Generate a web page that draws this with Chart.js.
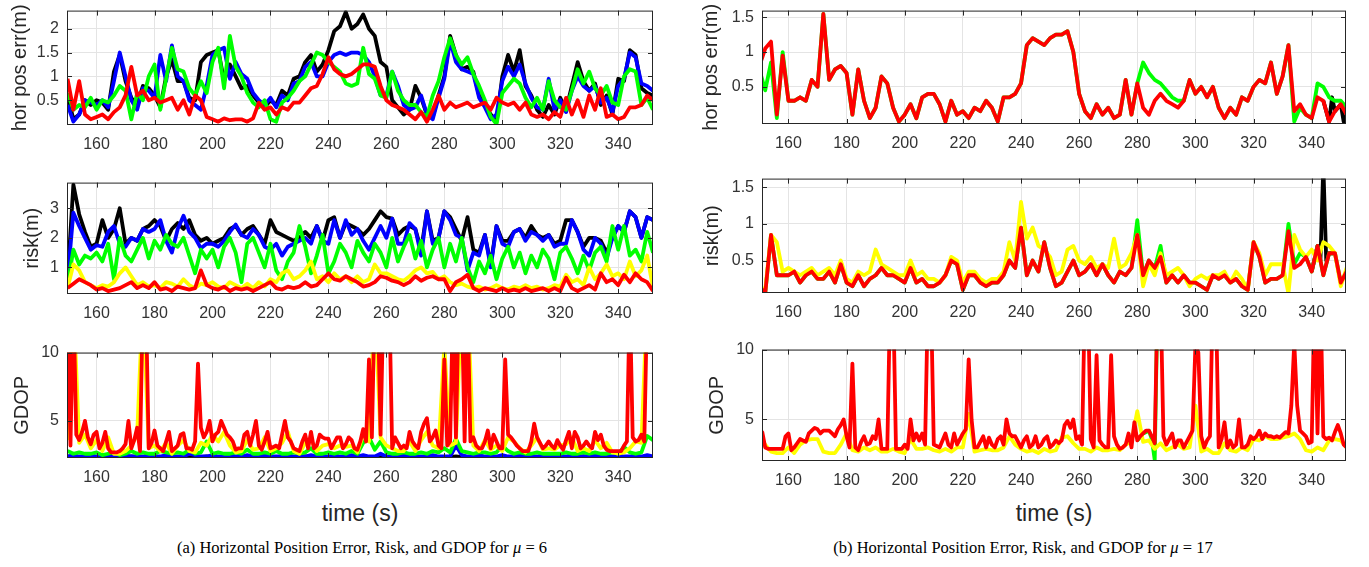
<!DOCTYPE html>
<html>
<head>
<meta charset="utf-8">
<script src="https://cdn.jsdelivr.net/npm/chart.js@4.4.1/dist/chart.umd.min.js"></script>
<style>
  body { margin: 0; background: #fff; width: 1369px; height: 567px; position: relative; overflow: hidden; }
  canvas { position: absolute; }
  .xlab { position: absolute; width: 300px; text-align: center; font: 23px/23px "Liberation Sans", Arial, sans-serif; color: #262626; }
  .cap { position: absolute; width: 600px; text-align: center; font: 16.5px/18px "Liberation Serif", "Times New Roman", serif; color: #000; }
</style>
</head>
<body>
<canvas id="lt"></canvas>
<canvas id="lm"></canvas>
<canvas id="lb"></canvas>
<canvas id="rt"></canvas>
<canvas id="rm"></canvas>
<canvas id="rb"></canvas>
<div class="xlab" style="left:210px;top:502px">time (s)</div>
<div class="xlab" style="left:904px;top:502px">time (s)</div>
<div class="cap" style="left:62px;top:539px">(a) Horizontal Position Error, Risk, and GDOP for <i>μ</i> = 6</div>
<div class="cap" style="left:723px;top:539px">(b) Horizontal Position Error, Risk, and GDOP for <i>μ</i> = 17</div>
<script>
// sample times (s): 2 s grid for most traces, 1 s grid for the spiky red GDOP traces
const t2 = []
for (let t = 150; t <= 352; t += 2) t2.push(t)
const t1 = []
for (let t = 150; t <= 352; t++) t1.push(t)

const xTicks = [160, 180, 200, 220, 240, 260, 280, 300, 320, 340]

// ---- (a) mu = 6 : horizontal position error ----
const ltBlack = [0.6,0.1,0.2,0.5,0.4,0.5,0.45,0.3,1.1,1.45,
  0.9,0.55,0.4,0.8,0.75,0.6,0.35,1.0,1.35,0.9,
  0.9,0.55,0.5,1.3,1.45,1.5,1.55,0.9,1.25,1.0,
  0.75,0.8,0.6,0.45,0.35,0.5,0.4,0.7,0.6,0.95,
  1.0,1.3,1.45,1.1,1.25,1.55,1.95,2.05,2.35,2.0,
  2.1,2.3,2.0,1.85,1.3,1.2,0.5,0.35,0.2,0.3,
  0.8,0.55,0.2,0.15,0.6,1.0,1.85,1.45,1.15,1.2,
  1.1,0.6,0.4,0.2,0.05,1.0,1.45,1.1,1.55,0.8,
  0.6,0.3,0.15,0.4,0.2,0.55,0.3,0.8,1.3,0.9,
  0.7,0.85,0.4,0.6,0.2,0.95,0.9,1.55,1.45,0.75,
  0.65,0.6]
const ltBlue = [0.4,0.05,0.2,0.5,0.45,0.4,0.5,0.35,0.9,1.5,
  1.0,0.5,0.3,0.75,0.7,0.55,1.45,0.9,1.65,1.0,
  0.9,0.5,0.4,0.3,0.8,1.45,1.55,1.6,0.95,1.3,
  1.05,0.95,0.65,0.5,0.4,0.55,0.35,0.6,0.5,0.85,
  0.9,1.2,1.3,1.0,1.0,1.3,1.45,1.5,1.45,1.5,
  1.5,1.45,1.3,1.0,0.6,0.6,1.1,0.8,0.4,0.3,
  0.35,0.6,0.2,0.1,0.55,0.95,1.75,1.3,1.15,1.1,
  1.05,0.55,0.35,0.1,0.2,0.9,1.2,1.0,1.25,0.85,
  0.55,0.35,0.3,0.95,0.3,0.5,0.25,0.7,1.0,0.8,
  0.7,0.8,0.45,0.55,0.25,0.8,0.95,1.5,1.4,0.85,
  0.8,0.7]
const ltGreen = [0.65,0.3,0.4,0.35,0.55,0.3,0.5,0.45,0.6,0.8,
  0.7,0.1,0.65,0.5,1.0,1.25,0.3,0.95,1.6,1.15,
  1.1,0.75,0.6,0.9,0.65,1.3,1.6,0.75,1.85,1.2,
  1.0,0.65,0.45,0.35,0.5,0.1,0.05,0.45,0.55,0.7,
  0.9,1.0,1.25,1.5,1.45,1.3,1.2,1.1,0.85,0.8,
  0.85,1.6,1.05,0.95,0.6,0.55,1.1,0.7,0.5,0.4,
  0.4,0.25,0.15,0.6,0.9,1.4,1.8,1.45,1.25,1.4,
  1.05,0.8,0.5,0.15,0.0,0.65,0.8,0.95,0.85,0.55,
  0.35,0.55,0.3,0.9,0.5,0.35,0.3,0.7,1.15,0.85,
  1.1,0.75,0.6,0.8,0.45,0.4,1.0,1.15,1.1,0.4,
  0.55,0.3]
const ltRed = [0.95,0.3,0.9,0.2,0.1,0.15,0.2,0.1,0.25,0.35,
  0.6,1.2,0.6,0.7,0.5,0.55,0.45,0.5,0.55,0.3,
  0.5,0.2,0.6,0.5,0.15,0.1,0.05,0.12,0.08,0.1,
  0.1,0.05,0.12,0.45,0.3,0.35,0.2,0.35,0.3,0.45,
  0.45,0.6,0.75,0.8,1.05,1.4,1.15,1.05,1.0,1.05,
  1.15,1.25,1.25,1.2,0.8,0.5,0.4,0.35,0.3,0.2,
  0.1,0.25,0.05,0.3,0.6,0.3,0.45,0.35,0.4,0.45,
  0.35,0.4,0.45,0.3,0.55,0.45,0.4,0.45,0.3,0.45,
  0.2,0.15,0.2,0.1,0.25,0.15,0.55,0.2,0.5,0.15,
  0.6,0.3,0.75,0.15,0.2,0.1,0.15,0.35,0.35,0.4,
  0.6,0.5]

// ---- (a) risk ----
const lmBlack = [0.6,3.8,2.8,2.2,1.7,1.8,2.6,2.0,2.3,3.0,
  1.8,2.0,1.9,2.3,2.4,2.6,2.4,1.9,2.3,2.5,
  2.3,2.6,2.1,1.9,2.0,1.8,1.9,2.0,2.3,2.4,
  2.1,2.3,2.4,2.1,1.8,2.6,2.2,2.1,2.0,1.9,
  2.0,2.2,2.0,2.4,1.9,2.6,2.7,2.0,2.5,2.4,
  2.3,2.1,2.3,2.6,2.9,2.7,2.65,2.1,2.3,2.4,
  2.3,1.6,2.9,1.9,2.0,2.9,2.7,2.3,1.9,2.7,
  1.6,1.5,2.1,1.1,2.4,1.9,1.9,2.2,2.3,2.0,
  2.4,2.1,2.0,2.1,1.8,1.9,2.6,2.6,2.2,1.7,
  2.0,2.0,1.9,1.5,2.0,2.4,2.2,2.9,2.7,2.0,
  2.7,2.6]
const lmBlue = [0.6,2.85,2.4,2.0,1.6,1.75,1.7,2.2,2.4,1.8,
  1.7,2.0,1.9,2.3,2.2,2.3,2.6,1.9,1.5,2.3,
  2.75,2.2,2.0,1.65,1.8,1.8,1.7,1.9,2.2,2.45,
  2.1,2.0,2.3,2.1,1.7,1.6,1.8,1.4,1.7,1.8,
  1.9,2.0,1.8,2.4,1.9,1.8,2.6,2.0,2.6,2.1,
  2.3,1.9,1.6,2.0,2.4,2.0,2.65,1.8,1.8,2.5,
  2.3,1.4,2.9,1.8,2.0,2.9,2.6,2.1,2.0,0.9,
  1.5,1.4,2.1,1.0,2.4,1.8,1.7,2.2,2.3,1.9,
  2.2,2.1,1.9,2.1,1.7,1.8,1.8,2.6,2.2,1.6,
  1.4,2.0,1.8,1.3,2.0,2.4,2.2,2.9,2.7,2.0,
  2.7,2.6]
const lmGreen = [0.4,1.6,1.1,1.4,1.3,1.5,1.2,1.8,0.6,2.0,
  1.4,1.2,1.6,2.0,1.3,1.9,1.6,2.1,1.8,1.7,
  2.0,1.4,0.8,1.6,1.3,1.6,1.0,1.7,2.0,1.5,
  0.5,1.8,2.0,1.5,1.0,1.8,0.9,0.6,1.2,1.5,
  2.4,1.7,0.8,1.4,2.1,0.8,1.2,1.8,1.5,1.0,
  1.9,1.5,1.2,1.8,1.5,1.0,2.0,1.2,1.7,2.1,
  1.3,1.9,1.0,1.6,2.0,1.0,1.8,1.2,2.0,1.0,
  0.5,1.2,0.8,1.4,0.6,1.3,1.7,1.0,1.5,0.8,
  1.4,1.0,1.6,1.3,0.6,1.5,1.7,1.3,0.8,1.4,
  0.9,1.5,1.7,1.2,2.4,1.6,2.4,1.4,1.6,1.2,
  2.2,1.5]
const lmYellow = [0.3,1.1,0.9,0.5,0.4,0.3,0.4,0.35,0.5,0.8,
  1.0,0.7,0.4,0.5,0.35,0.4,0.3,0.5,0.45,0.35,
  0.6,0.4,0.3,0.45,0.4,0.5,0.35,0.3,0.5,0.4,
  0.3,0.45,0.3,0.5,0.35,0.6,0.5,0.8,0.9,0.6,
  0.7,0.9,1.2,0.6,0.7,0.5,0.8,0.6,0.7,0.5,
  0.7,0.5,0.6,1.1,0.8,0.8,0.7,0.6,0.55,0.7,
  0.9,1.0,0.8,0.85,0.6,0.7,0.5,0.4,0.45,0.35,
  0.3,0.35,0.25,0.3,0.4,0.3,0.25,0.35,0.3,0.4,
  0.3,0.35,0.25,0.3,0.4,0.35,0.75,0.5,0.6,0.4,
  1.0,0.6,0.8,1.1,0.7,0.8,0.6,1.2,0.7,0.9,
  1.4,0.3]
const lmRed = [0.3,0.45,0.6,0.5,0.4,0.25,0.3,0.2,0.25,0.3,
  0.4,0.5,0.3,0.4,0.3,0.5,0.25,0.3,0.2,0.35,
  0.3,0.25,0.3,0.9,0.4,0.3,0.25,0.35,0.2,0.3,
  0.25,0.3,0.2,0.3,0.4,0.5,0.3,0.25,0.35,0.3,
  0.35,0.5,0.35,0.4,0.6,0.8,0.6,0.55,0.7,0.6,
  0.5,0.35,0.4,0.5,0.7,0.65,0.55,0.5,0.4,0.5,
  0.7,0.55,0.65,0.7,0.6,0.6,0.2,0.5,0.6,0.75,
  0.3,0.2,0.3,0.25,0.2,0.3,0.2,0.25,0.2,0.3,
  0.2,0.25,0.3,0.2,0.3,0.2,0.65,0.3,0.2,0.3,
  0.4,0.25,0.8,0.5,0.6,0.4,0.75,0.5,0.8,0.6,
  0.5,0.2]

// ---- (a) GDOP ----
const lbBlack = [2.4,2.35,2.35,2.4,2.35,2.35,2.35,2.4,2.35,2.35,
  2.35,2.4,2.35,2.35,2.35,2.4,2.35,2.35,2.35,2.35,
  2.4,2.35,2.35,2.35,2.4,2.35,2.35,2.35,2.4,2.35,
  2.35,2.35,2.4,2.35,2.35,2.35,2.35,2.4,2.35,2.35,
  2.35,2.4,2.35,2.35,2.35,2.35,2.4,2.35,2.35,2.35,
  2.35,2.35,2.35,2.35,2.35,2.35,2.4,2.35,2.35,2.4,
  2.35,2.35,2.4,2.35,2.35,2.35,2.35,2.4,2.35,2.35,
  2.35,2.4,2.35,2.35,2.35,2.4,2.35,2.35,2.35,2.35,
  2.4,2.35,2.35,2.35,2.35,2.4,2.35,2.35,2.35,2.4,
  2.35,2.35,2.35,2.4,2.35,2.35,2.35,2.35,2.4,2.35,
  2.35,2.35]
const lbBlue = [2.4,2.5,2.4,2.4,2.5,2.4,2.4,2.5,2.4,2.4,
  2.5,2.4,2.4,2.4,2.5,2.4,2.4,2.5,2.4,2.4,
  2.4,2.6,2.5,2.4,2.4,2.5,2.4,2.4,2.5,2.4,
  2.4,2.5,2.4,2.4,2.5,2.4,2.4,2.4,2.5,2.4,
  2.4,2.4,2.5,2.4,2.4,2.4,2.5,2.4,2.4,2.5,
  2.4,2.5,2.4,2.4,2.6,2.4,2.4,2.4,2.5,2.4,
  2.4,2.4,2.4,2.5,2.4,2.4,2.4,3.2,2.5,2.4,
  2.4,2.5,2.4,2.4,2.4,2.5,2.4,2.4,2.5,2.4,
  2.4,2.4,2.5,2.4,2.4,2.4,2.4,2.5,2.4,2.4,
  2.4,2.5,2.4,2.4,2.4,2.5,2.4,2.4,2.5,2.4,
  2.5,2.4]
const lbGreen = [2.8,2.6,2.7,2.6,2.6,2.7,2.5,2.6,2.7,2.5,
  2.6,2.8,2.6,2.7,2.6,2.6,2.8,2.7,2.6,2.7,
  2.6,2.9,2.6,2.7,3.5,2.6,2.7,2.6,2.6,2.7,
  2.6,2.9,2.6,2.6,2.7,2.6,2.8,2.6,2.6,2.7,
  2.6,2.7,3.0,2.6,2.6,2.7,2.6,2.7,2.6,2.8,
  2.6,3.4,3.8,2.9,3.5,2.7,2.6,2.6,2.7,2.6,
  2.6,2.7,2.6,2.8,2.7,3.0,2.7,3.7,2.8,2.7,
  2.6,2.7,2.7,2.6,2.7,3.2,2.8,2.6,2.7,2.6,
  2.6,2.7,2.6,2.6,2.6,2.6,2.7,2.6,2.6,2.7,
  2.6,2.7,2.6,2.6,2.7,2.6,3.1,2.7,2.6,2.7,
  3.9,3.6]
const lbYellow = [3.6,14,3.4,4.0,3.0,3.6,2.8,3.8,2.6,2.6,
  2.8,3.2,4.0,14,3.0,3.2,2.8,3.4,2.6,3.2,
  3.6,2.8,2.7,3.4,3.2,4.0,3.5,4.2,3.2,2.7,
  2.8,3.6,2.9,3.0,3.8,2.8,3.0,3.4,4.2,2.8,
  2.6,3.4,3.6,2.8,3.2,3.3,3.0,3.2,3.1,3.2,
  2.7,4.0,3.5,14,3.8,3.2,3.0,2.8,2.8,3.5,
  2.8,3.6,4.2,3.2,3.0,10.5,3.2,3.4,14,14,
  3.2,2.8,3.6,2.9,3.2,2.8,3.8,3.5,3.0,2.7,
  3.2,3.8,2.9,3.0,2.9,3.2,3.3,3.8,2.8,3.0,
  2.8,3.6,3.0,3.4,2.7,2.6,2.7,3.0,3.5,3.4,
  14,14]
const lbRed = [14,3.2,14,4.0,3.6,4.2,5.0,3.8,3.3,4.0,
  4.2,3.0,3.4,4.2,3.0,2.7,2.7,2.7,2.8,3.0,
  3.3,5.0,3.0,3.6,4.5,2.8,14,14,3.0,3.4,
  4.3,3.2,3.0,2.8,3.5,4.2,2.8,3.0,3.2,4.0,
  4.1,3.0,3.0,2.9,3.5,9.2,4.5,3.8,4.2,5.0,
  3.5,4.0,4.2,5.0,4.5,4.0,3.8,3.5,2.9,3.0,
  3.0,4.0,4.2,3.2,4.0,5.0,3.2,2.9,3.5,4.2,
  3.0,3.1,3.2,3.0,4.0,5.0,3.8,3.5,3.0,2.9,
  2.8,3.5,4.0,3.0,4.2,3.0,3.2,4.0,3.8,3.7,
  3.7,3.0,3.4,3.8,3.8,3.0,3.3,3.8,3.6,3.0,
  2.9,3.5,4.4,3.5,9.5,3.8,14,14,4.0,14,
  14,14,3.0,3.8,3.4,3.0,3.2,3.0,4.2,3.5,
  3.2,3.0,4.2,4.8,5.2,3.5,3.8,4.3,3.2,3.0,
  9.5,3.2,3.5,14,3.8,14,14,3.5,14,3.5,
  3.8,3.2,3.0,3.0,3.5,4.3,3.0,4.0,3.5,3.0,
  3.0,9.5,4.0,3.8,3.5,3.2,3.0,2.8,2.8,2.8,
  3.5,4.8,3.8,3.4,3.0,3.2,3.5,3.2,3.0,3.6,
  3.2,2.9,3.6,4.2,3.0,4.2,3.8,3.0,3.2,3.5,
  3.2,3.0,4.2,3.6,4.0,3.2,2.9,2.8,2.8,2.8,
  2.8,2.8,3.2,3.5,14,3.8,3.5,3.6,4.0,3.5,
  14,14,14]

// ---- (b) mu = 17 : horizontal position error ----
const rtGreen = [0.75,0.45,0.85,0.05,1.0,0.3,0.3,0.35,0.3,0.6,
  0.5,1.55,0.6,0.75,0.8,0.7,0.1,0.75,0.3,0.05,
  0.2,0.65,0.55,0.2,0.0,0.1,0.25,0.05,0.35,0.4,
  0.4,0.25,0.0,0.3,0.1,0.15,0.05,0.2,0.15,0.3,
  0.2,0.0,0.35,0.35,0.4,0.55,1.1,1.2,1.15,1.1,
  1.2,1.25,1.25,1.3,1.0,0.4,0.15,0.05,0.25,0.1,
  0.2,0.05,0.1,0.6,0.1,0.55,0.85,0.7,0.6,0.55,
  0.45,0.35,0.3,0.3,0.6,0.4,0.5,0.35,0.5,0.2,
  0.05,0.2,0.1,0.35,0.3,0.5,0.6,0.55,0.85,0.4,
  0.65,1.1,0.0,0.2,0.1,0.05,0.55,0.5,0.35,0.3,
  0.3,0.2]
const rtRed = [0.8,1.05,1.15,0.1,0.95,0.3,0.3,0.35,0.3,0.6,
  0.5,1.55,0.6,0.75,0.8,0.7,0.1,0.75,0.3,0.05,
  0.2,0.65,0.55,0.2,0.0,0.1,0.25,0.05,0.35,0.4,
  0.4,0.25,0.0,0.3,0.1,0.15,0.05,0.2,0.15,0.3,
  0.2,0.0,0.35,0.35,0.4,0.55,1.1,1.2,1.15,1.1,
  1.2,1.25,1.25,1.3,1.0,0.4,0.15,0.05,0.25,0.1,
  0.2,0.05,0.1,0.6,0.1,0.55,0.2,0.1,0.3,0.4,
  0.3,0.25,0.2,0.3,0.6,0.4,0.5,0.35,0.5,0.2,
  0.05,0.2,0.1,0.35,0.3,0.5,0.6,0.55,0.85,0.4,
  0.65,1.1,0.15,0.25,0.1,0.05,0.35,0.3,0.0,0.15,
  0.25,0.1]
const rtBlackT = [344, 346, 347, 348, 350, 351, 352]
const rtBlack = [0.3, 0.0, 0.35, 0.15, 0.25, 0.0, 0.1]

// ---- (b) risk ----
const rmGreen = [0.15,0.05,0.85,0.3,0.3,0.3,0.35,0.2,0.3,0.35,
  0.25,0.25,0.35,0.2,0.45,0.2,0.15,0.3,0.15,0.25,
  0.3,0.4,0.3,0.3,0.25,0.2,0.4,0.2,0.25,0.15,
  0.15,0.2,0.3,0.5,0.45,0.1,0.3,0.3,0.2,0.15,
  0.2,0.2,0.3,0.5,0.4,0.95,0.3,0.5,0.35,0.75,
  0.4,0.15,0.2,0.35,0.5,0.3,0.35,0.45,0.3,0.45,
  0.3,0.2,0.35,0.3,0.4,1.05,0.3,0.5,0.4,0.7,
  0.2,0.3,0.2,0.3,0.2,0.2,0.15,0.1,0.3,0.25,
  0.3,0.2,0.25,0.15,0.1,0.75,0.55,0.2,0.25,0.25,
  0.3,1.0,0.45,0.6,0.55,0.35,0.7,0.3,0.6,0.6,
  0.2,0.35]
const rmYellow = [0.15,0.1,0.85,0.75,0.35,0.4,0.35,0.3,0.35,0.4,
  0.3,0.35,0.4,0.3,0.5,0.25,0.2,0.35,0.3,0.35,
  0.65,0.45,0.4,0.35,0.3,0.3,0.5,0.3,0.35,0.25,
  0.25,0.2,0.3,0.55,0.5,0.2,0.35,0.35,0.25,0.2,
  0.25,0.25,0.35,0.75,0.5,1.3,0.8,0.95,0.7,0.65,
  0.55,0.3,0.35,0.65,0.7,0.5,0.45,0.55,0.4,0.45,
  0.4,0.8,0.4,0.45,0.6,0.85,0.15,0.45,0.3,0.6,
  0.3,0.35,0.4,0.3,0.15,0.25,0.3,0.25,0.3,0.3,
  0.35,0.2,0.35,0.25,0.1,0.75,0.6,0.3,0.45,0.45,
  0.45,0.05,0.85,0.65,0.55,0.65,0.5,0.75,0.7,0.6,
  0.15,0.4]
const rmRed = [0.15,0.05,0.85,0.3,0.3,0.3,0.35,0.2,0.3,0.35,
  0.25,0.25,0.35,0.2,0.45,0.2,0.15,0.3,0.15,0.25,
  0.3,0.4,0.3,0.3,0.25,0.2,0.4,0.2,0.25,0.15,
  0.15,0.2,0.3,0.5,0.45,0.1,0.3,0.3,0.2,0.15,
  0.2,0.2,0.3,0.5,0.4,0.95,0.3,0.5,0.35,0.75,
  0.4,0.15,0.2,0.35,0.5,0.3,0.35,0.45,0.3,0.45,
  0.3,0.2,0.35,0.3,0.4,0.85,0.3,0.5,0.4,0.55,
  0.2,0.3,0.2,0.3,0.2,0.2,0.15,0.1,0.3,0.25,
  0.3,0.2,0.25,0.15,0.1,0.75,0.55,0.2,0.25,0.25,
  0.3,0.9,0.4,0.45,0.55,0.35,0.7,0.3,0.6,0.6,
  0.2,0.35]
const rmBlackT = [340, 342, 343, 344, 345, 346, 348]
const rmBlack = [0.35, 0.7, 0.5, 1.8, 0.5, 0.6, 0.6]

// ---- (b) GDOP ----
const rbGreenT = [280, 282, 284, 285, 286, 287, 288]
const rbGreen = [3.5, 4.0, 4.2, 3.6, 2.1, 14, 14]
const rbYellow = [3.6,3.2,2.7,2.6,2.6,3.0,2.6,3.2,3.5,3.6,
  3.6,2.7,2.6,2.6,3.2,4.0,2.8,2.7,3.0,2.8,
  3.0,2.7,2.7,2.9,2.7,2.6,3.6,2.9,2.9,3.0,
  2.8,2.7,2.9,2.7,3.0,3.0,5.4,2.7,2.8,2.9,
  2.8,2.8,3.0,3.8,3.2,2.9,2.7,2.8,2.6,2.9,
  2.7,2.8,3.7,3.8,3.3,2.9,2.9,2.7,3.0,2.8,
  2.8,2.9,2.8,3.2,3.4,5.6,3.4,3.5,2.9,3.3,
  2.8,3.0,3.2,2.9,3.0,6.0,2.7,2.9,2.6,2.6,
  3.3,2.8,2.7,3.0,2.8,3.6,3.5,3.8,3.6,3.6,
  3.7,3.8,4.0,3.6,2.8,2.7,3.0,2.8,3.5,3.6,
  3.5,3.0]
const rbRed = [4.1,4.1,3.0,2.9,2.9,2.9,2.9,2.9,2.9,3.8,
  4.0,2.8,3.0,3.3,3.6,3.5,3.4,4.0,4.2,4.4,
  4.3,4.0,4.2,4.2,4.2,4.0,3.8,4.3,4.6,5.0,
  3.8,3.0,9.0,3.0,2.8,3.4,3.8,3.2,3.3,3.8,
  3.6,5.0,2.9,2.9,2.9,14,14,2.9,2.9,2.9,
  3.2,2.9,5.0,3.5,4.0,3.5,4.0,3.2,14,14,
  3.2,3.1,3.0,3.5,4.0,3.2,3.0,4.0,3.2,3.6,
  4.0,4.3,9.3,5.0,3.0,3.0,3.4,3.8,3.0,3.7,
  3.2,3.0,3.6,3.8,3.2,5.0,4.0,3.8,3.8,3.4,
  3.0,3.5,3.8,3.0,3.2,3.8,3.0,3.2,3.6,3.8,
  3.0,3.2,3.5,3.3,3.5,4.6,4.9,4.4,5.0,3.6,
  3.8,3.2,14,14,3.6,3.0,9.6,3.5,3.2,3.0,
  3.0,9.6,3.8,3.2,2.9,3.0,3.2,4.0,3.0,4.8,
  3.5,3.8,4.0,4.2,4.2,3.8,3.3,14,14,3.8,
  3.2,3.6,4.0,3.0,3.5,3.5,3.0,3.4,3.8,4.2,
  10.3,9.8,3.8,3.0,3.5,3.8,14,14,3.0,3.6,
  4.8,3.0,3.5,3.0,3.2,5.0,3.0,3.0,3.2,3.8,
  3.6,3.8,4.2,3.6,4.0,3.8,3.8,3.7,3.8,3.7,
  3.9,4.1,4.0,6.0,10.5,6.0,4.2,4.0,3.8,3.3,
  3.4,14,4.0,14,3.8,3.6,3.7,3.5,4.1,4.6,
  4.0,3.2,3.0]

const BLACK = '#000000', BLUE = '#0000ff', GREEN = '#00ff00', YELLOW = '#ffff00', RED = '#ff0000'
// lower rank is drawn on top (red on top, as in the figure)
const rank = { [RED]: 0, [YELLOW]: 1, [GREEN]: 2, [BLUE]: 3, [BLACK]: 4 }

Chart.defaults.font.family = '"Liberation Sans", Arial, sans-serif'
Chart.defaults.color = '#262626'

// box + inward tick marks, drawn over the lines like matlab does
const frame = {
  id: 'frame',
  afterDatasetsDraw(chart) {
    const { ctx, chartArea: a, scales } = chart
    ctx.save()
    ctx.strokeStyle = '#262626'
    ctx.lineWidth = 1
    ctx.strokeRect(a.left + 0.5, a.top + 0.5, a.width - 1, a.height - 1)
    ctx.beginPath()
    scales.x.ticks.forEach(t => {
      const x = Math.round(scales.x.getPixelForValue(t.value)) + 0.5
      ctx.moveTo(x, a.bottom); ctx.lineTo(x, a.bottom - 5)
      ctx.moveTo(x, a.top); ctx.lineTo(x, a.top + 5)
    })
    scales.y.ticks.forEach(t => {
      const y = Math.round(scales.y.getPixelForValue(t.value)) + 0.5
      ctx.moveTo(a.left, y); ctx.lineTo(a.left + 5, y)
      ctx.moveTo(a.right, y); ctx.lineTo(a.right - 5, y)
    })
    ctx.stroke()
    ctx.restore()
  }
}

function makePanel(p) {
  const cv = document.getElementById(p.id)
  const padTop = 12, padRight = 12, xAxisH = 32
  const w = p.plotRight + padRight - p.left
  const h = padTop + (p.plotBottom - p.plotTop) + xAxisH
  cv.width = w
  cv.height = h
  cv.style.left = p.left + 'px'
  cv.style.top = (p.plotTop - padTop) + 'px'
  cv.style.width = w + 'px'
  cv.style.height = h + 'px'

  new Chart(cv, {
    type: 'line',
    data: {
      datasets: p.series.map(s => ({
        data: s.t.map((t, i) => ({ x: t, y: s.v[i] })),
        borderColor: s.c,
        borderWidth: 3.8,
        borderJoinStyle: 'round',
        pointRadius: 0,
        tension: 0,
        fill: false,
        clip: 0,
        order: rank[s.c]
      }))
    },
    options: {
      responsive: false,
      animation: false,
      devicePixelRatio: 1,
      layout: { padding: { top: padTop, right: padRight, left: 0, bottom: 0 } },
      plugins: { legend: { display: false }, tooltip: { enabled: false } },
      scales: {
        x: {
          type: 'linear',
          min: p.xMin,
          max: p.xMax,
          afterFit: s => { s.height = xAxisH },
          afterBuildTicks: s => { s.ticks = xTicks.map(v => ({ value: v })) },
          grid: { color: '#e4e4e4', drawTicks: false },
          border: { display: false },
          ticks: { padding: 10, color: '#333', font: { size: 16 }, maxRotation: 0, autoSkip: false, callback: v => String(v) }
        },
        y: {
          min: p.yMin,
          max: p.yMax,
          afterFit: s => { s.width = p.plotLeft - p.left },
          afterBuildTicks: s => { s.ticks = p.yTicks.map(v => ({ value: v })) },
          grid: { color: '#e4e4e4', drawTicks: false },
          border: { display: false },
          ticks: { padding: 8, color: '#333', font: { size: 16 }, autoSkip: false, callback: v => String(v) },
          title: { display: true, text: p.title, color: '#262626', font: { size: 20 }, padding: { top: p.titlePad, bottom: 0 } }
        }
      }
    },
    plugins: [frame]
  })
}

const L = { left: 0, plotLeft: 67, plotRight: 653, xMin: 149.8, xMax: 352 }
const R = { left: 690, plotLeft: 762, plotRight: 1346, xMin: 150.9, xMax: 351.8 }

const panels = [
  { ...L, id: 'lt', plotTop: 5, plotBottom: 125, yMin: -0.02, yMax: 2.38, yTicks: [0.5, 1, 1.5, 2], title: 'hor pos err(m)', titlePad: 8,
    series: [{ t: t2, v: ltBlack, c: BLACK }, { t: t2, v: ltBlue, c: BLUE }, { t: t2, v: ltGreen, c: GREEN }, { t: t2, v: ltRed, c: RED }] },
  { ...L, id: 'lm', plotTop: 177, plotBottom: 294, yMin: 0.1, yMax: 3.87, yTicks: [1, 2, 3], title: 'risk(m)', titlePad: 20,
    series: [{ t: t2, v: lmBlack, c: BLACK }, { t: t2, v: lmBlue, c: BLUE }, { t: t2, v: lmGreen, c: GREEN }, { t: t2, v: lmYellow, c: YELLOW }, { t: t2, v: lmRed, c: RED }] },
  { ...L, id: 'lb', plotTop: 347, plotBottom: 458, yMin: 2.29, yMax: 10, yTicks: [5, 10], title: 'GDOP', titlePad: 10,
    series: [{ t: t2, v: lbBlack, c: BLACK }, { t: t2, v: lbBlue, c: BLUE }, { t: t2, v: lbGreen, c: GREEN }, { t: t2, v: lbYellow, c: YELLOW }, { t: t1, v: lbRed, c: RED }] },
  { ...R, id: 'rt', plotTop: 5, plotBottom: 124, yMin: -0.034, yMax: 1.596, yTicks: [0.5, 1, 1.5], title: 'hor pos err(m)', titlePad: 9,
    series: [{ t: rtBlackT, v: rtBlack, c: BLACK }, { t: t2, v: rtGreen, c: GREEN }, { t: t2, v: rtRed, c: RED }] },
  { ...R, id: 'rm', plotTop: 173, plotBottom: 293, yMin: 0.058, yMax: 1.617, yTicks: [0.5, 1, 1.5], title: 'risk(m)', titlePad: 10,
    series: [{ t: rmBlackT, v: rmBlack, c: BLACK }, { t: t2, v: rmGreen, c: GREEN }, { t: t2, v: rmYellow, c: YELLOW }, { t: t2, v: rmRed, c: RED }] },
  { ...R, id: 'rb', plotTop: 344, plotBottom: 461, yMin: 2.03, yMax: 10, yTicks: [5, 10], title: 'GDOP', titlePad: 15,
    series: [{ t: rbGreenT, v: rbGreen, c: GREEN }, { t: t2, v: rbYellow, c: YELLOW }, { t: t1, v: rbRed, c: RED }] }
]

panels.forEach(p => {
  p.series.forEach(s => { if (s.t.length !== s.v.length) console.warn(p.id, s.c, s.t.length, s.v.length) })
  makePanel(p)
})
</script>
</body>
</html>
